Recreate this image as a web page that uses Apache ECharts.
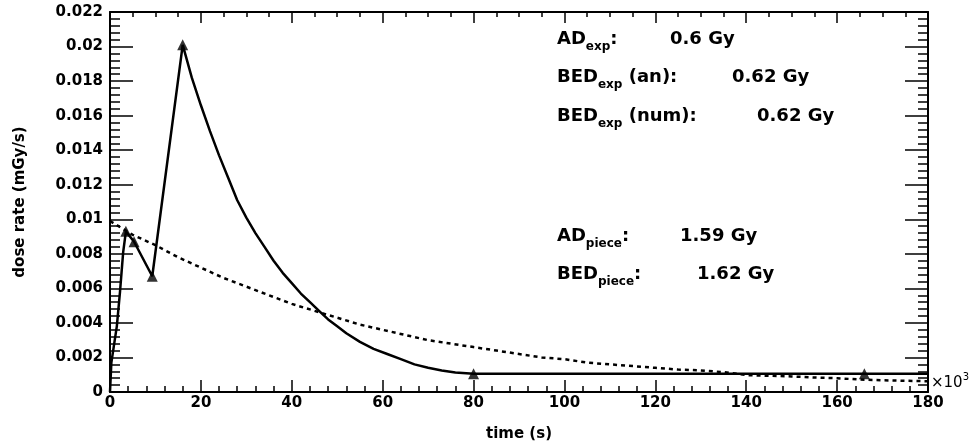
<!DOCTYPE html>
<html><head><meta charset="utf-8">
<script src="https://cdn.jsdelivr.net/npm/echarts@6/dist/echarts.min.js"></script>
<style>html,body{margin:0;padding:0;background:#fff}#c{width:972px;height:447px}</style>
</head><body><div id="c"></div>
<script>
// ---- data (time in 10^3 s, dose rate in mGy/s) ----
const pieceTime = [0, 0.3, 1.5, 2.2, 2.9, 3.5, 5.3, 9.3, 16, 18, 20, 22, 24, 26, 28, 30, 32, 34, 36, 38, 40, 42, 44, 46, 48, 50, 52, 55, 58, 61, 64, 67, 70, 73, 76, 80, 180];
const pieceRate = [0, 0.0017, 0.0038, 0.0058, 0.0081, 0.0093, 0.0087, 0.0067, 0.0201, 0.0182, 0.0166, 0.0151, 0.0137, 0.0124, 0.0111, 0.0101, 0.0092, 0.0084, 0.0076, 0.0069, 0.0063, 0.0057, 0.0052, 0.0047, 0.0042, 0.0038, 0.0034, 0.0029, 0.0025, 0.0022, 0.0019, 0.0016, 0.0014, 0.00125, 0.00113, 0.00105, 0.00105];
const markerTime = [3.5, 5.3, 9.3, 16, 80, 166];
const markerRate = [0.0093, 0.0087, 0.0067, 0.0201, 0.00105, 0.00105];
const expTime = [0, 5, 10, 15, 20, 25, 30, 35, 40, 45, 50, 55, 60, 65, 70, 75, 80, 85, 90, 95, 100, 105, 110, 115, 120, 125, 130, 135, 140, 145, 150, 155, 160, 165, 170, 175, 180];
const expRate = [0.0099, 0.0091, 0.0085, 0.0078, 0.0072, 0.0066, 0.0061, 0.0056, 0.0051, 0.0047, 0.0043, 0.0039, 0.0036, 0.0033, 0.0030, 0.0028, 0.0026, 0.0024, 0.0022, 0.0020, 0.0019, 0.0017, 0.0016, 0.0015, 0.0014, 0.0013, 0.00125, 0.00115, 0.00098, 0.00094, 0.0009, 0.00084, 0.0008, 0.00072, 0.00068, 0.00065, 0.00062];
const annotLabels = [
  ['AD', 'exp', ':'],
  ['BED', 'exp', ' (an):'],
  ['BED', 'exp', ' (num):'],
  ['AD', 'piece', ':'],
  ['BED', 'piece', ':']
];
const annotValues = ['0.6 Gy', '0.62 Gy', '0.62 Gy', '1.59 Gy', '1.62 Gy'];
const xAxisTitle = 'time (s)';
const yAxisTitle = 'dose rate (mGy/s)';
const xRange = [0, 180], xStep = 20;
const yRange = [0, 0.022], yStep = 0.002;

// ---- layout/style ----
const FONT = 'DejaVu Sans';
const labelX = [557, 557, 557, 557, 557];
const valueX = [670, 732, 757, 680, 697];
const rowTop = [30, 68, 107, 227, 265];

const zip = (a, b) => a.map((v, i) => [v, b[i]]);
const axisLine = {show: true, onZero: false, lineStyle: {color: '#000', width: 2}};
const tickStyle = {color: '#000', width: 1.5};

const graphics = [];
annotLabels.forEach((l, i) => {
  graphics.push({type: 'text', left: labelX[i], top: rowTop[i], style: {
    text: '{m|' + l[0] + '}{s|' + l[1] + '}{m|' + l[2] + '}',
    rich: {
      m: {fontFamily: FONT, fontWeight: 'bold', fontSize: 18, lineHeight: 22, fill: '#000'},
      s: {fontFamily: FONT, fontWeight: 'bold', fontSize: 12, lineHeight: 14, verticalAlign: 'bottom', padding: [0, 0, -3, 0], fill: '#000'}
    }}});
  graphics.push({type: 'text', left: valueX[i], top: rowTop[i], style: {
    text: '{m|' + annotValues[i] + '}',
    rich: {m: {fontFamily: FONT, fontWeight: 'bold', fontSize: 18, lineHeight: 22, fill: '#000'}}}});
});
graphics.push({type: 'text', left: 931, top: 372, style: {
  text: '{a|\u00d710}{b|3}',
  rich: {
    a: {fontFamily: FONT, fontSize: 15, lineHeight: 22, fill: '#000'},
    b: {fontFamily: FONT, fontSize: 10, lineHeight: 22, verticalAlign: 'top', fill: '#000'}
  }}});

const chart = echarts.init(document.getElementById('c'), null, {renderer: 'canvas'});
chart.setOption({
  animation: false,
  backgroundColor: '#fff',
  grid: {left: 110, right: 44, top: 12, bottom: 54, containLabel: false},
  xAxis: [{
    type: 'value', min: xRange[0], max: xRange[1], interval: xStep, position: 'bottom',
    name: xAxisTitle, nameLocation: 'middle', nameGap: 35,
    nameTextStyle: {fontFamily: FONT, fontWeight: 'bold', fontSize: 15, color: '#000'},
    axisLine: axisLine,
    axisTick: {show: true, inside: true, length: 12, lineStyle: tickStyle},
    minorTick: {show: true, splitNumber: 5, length: 6, lineStyle: tickStyle},
    axisLabel: {fontFamily: FONT, fontWeight: 'bold', fontSize: 15, color: '#000', margin: 4},
    splitLine: {show: false}
  }, {
    type: 'value', min: xRange[0], max: xRange[1], interval: xStep, position: 'top',
    axisLine: axisLine,
    axisTick: {show: true, inside: true, length: 11, lineStyle: tickStyle},
    minorTick: {show: true, splitNumber: 4, length: 5, lineStyle: tickStyle},
    axisLabel: {show: false}, splitLine: {show: false}
  }],
  yAxis: [{
    type: 'value', min: yRange[0], max: yRange[1], interval: yStep, position: 'left',
    name: yAxisTitle, nameLocation: 'middle', nameGap: 82, nameRotate: 90,
    nameTextStyle: {fontFamily: FONT, fontWeight: 'bold', fontSize: 15, color: '#000'},
    axisLine: axisLine,
    axisTick: {show: true, inside: true, length: 23, lineStyle: tickStyle},
    minorTick: {show: true, splitNumber: 5, length: 10, lineStyle: tickStyle},
    axisLabel: {fontFamily: FONT, fontWeight: 'bold', fontSize: 15, color: '#000', margin: 7},
    splitLine: {show: false}
  }, {
    type: 'value', min: yRange[0], max: yRange[1], interval: yStep, position: 'right',
    axisLine: axisLine,
    axisTick: {show: true, inside: true, length: 23, lineStyle: tickStyle},
    minorTick: {show: true, splitNumber: 5, length: 10, lineStyle: tickStyle},
    axisLabel: {show: false}, splitLine: {show: false}
  }],
  series: [{
    type: 'line', data: zip(expTime, expRate), showSymbol: false, symbol: 'none',
    lineStyle: {color: '#000', width: 2.5, type: [4, 4]}, z: 2
  }, {
    type: 'line', data: zip(pieceTime, pieceRate), showSymbol: false, symbol: 'none',
    lineStyle: {color: '#000', width: 2.5}, z: 3
  }, {
    type: 'scatter', data: zip(markerTime, markerRate), symbol: 'triangle', symbolSize: 11,
    itemStyle: {color: '#000'}, z: 4
  }],
  graphic: graphics
});
</script></body></html>
